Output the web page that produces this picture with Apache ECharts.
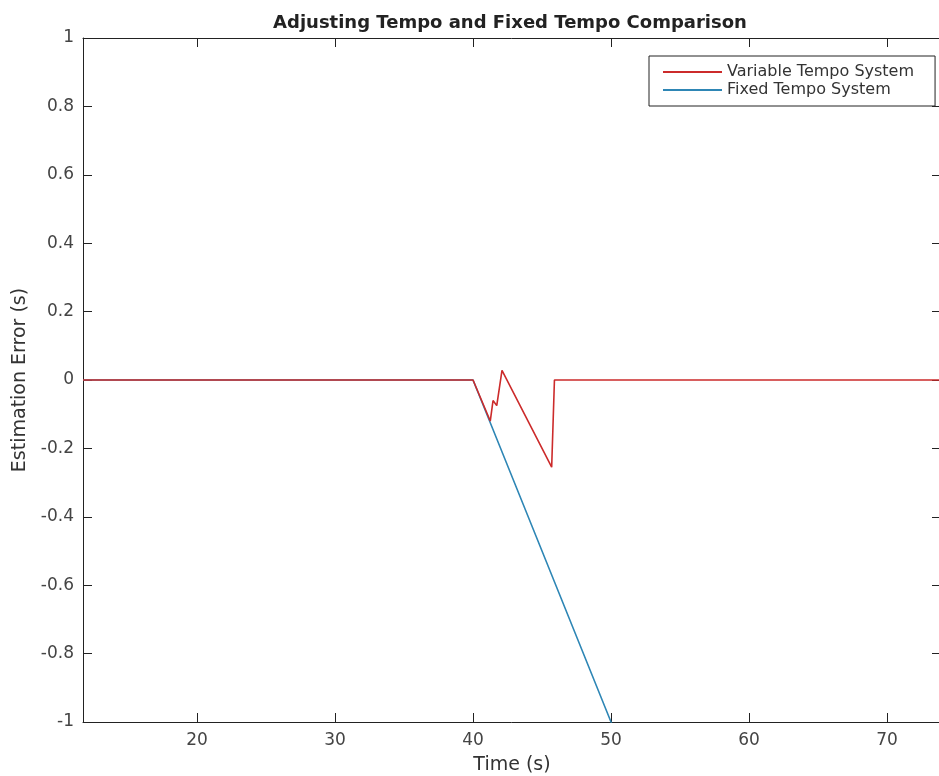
<!DOCTYPE html>
<html>
<head>
<meta charset="utf-8">
<title>Adjusting Tempo and Fixed Tempo Comparison</title>
<script src="https://cdn.jsdelivr.net/npm/echarts@6/dist/echarts.min.js"></script>
<style>
  html, body { margin: 0; padding: 0; background: #fff; }
  #chart { width: 939px; height: 776px; }
</style>
</head>
<body>
<div id="chart"></div>
<script>
// x range (axis is cropped on the right)
var xMin = 11.74;
var xMax = 73.91;

// Variable tempo system (red)
var varTime = [11.74, 40.0, 41.25, 41.45, 41.72, 42.1, 45.7, 45.9, 73.91];
var varErr = [0, 0, -0.12, -0.06, -0.075, 0.028, -0.255, 0, 0];

// Fixed tempo system (blue)
var fixTime = [11.74, 40.0, 50.0, 60.0];
var fixErr = [0, 0, -1.0, -2.0];

function pairs(xs, ys) {
  var out = [];
  for (var i = 0; i < xs.length; i++) out.push([xs[i], ys[i]]);
  return out;
}

var FONT = "DejaVu Sans";
var axisLineStyle = { color: "#222", width: 1 };

var chart = echarts.init(document.getElementById("chart"));
var option = {
  backgroundColor: "#fff",
  animation: false,
  title: {
    text: "Adjusting Tempo and Fixed Tempo Comparison",
    left: 505,
    top: 9,
    textAlign: "center",
    textStyle: { fontFamily: FONT, fontSize: 18, fontWeight: "bold", color: "#222" }
  },
  legend: {
    orient: "vertical",
    left: 649,
    top: 56,
    data: ["Variable Tempo System", "Fixed Tempo System"],
    icon: "rect",
    itemWidth: 59,
    itemHeight: 2,
    itemGap: 2,
    padding: [8, 21, 8, 14],
    borderColor: "#222",
    borderWidth: 1,
    backgroundColor: "#fff",
    textStyle: { fontFamily: FONT, fontSize: 16, color: "#333", lineHeight: 16 }
  },
  grid: { left: 83, top: 38, width: 858, height: 684, containLabel: false, outerBoundsMode: "none" },
  xAxis: [
    {
      type: "value",
      min: xMin,
      max: xMax,
      splitNumber: 6,
      name: "Time (s)",
      nameLocation: "middle",
      nameGap: 34,
      nameTextStyle: { fontFamily: FONT, fontSize: 19, color: "#333" },
      axisLine: { onZero: false, lineStyle: axisLineStyle },
      axisTick: { inside: true, length: 9, lineStyle: axisLineStyle },
      axisLabel: { fontFamily: FONT, fontSize: 17, color: "#444", margin: 10, showMinLabel: false, showMaxLabel: false },
      splitLine: { show: false }
    },
    {
      type: "value",
      position: "top",
      min: xMin,
      max: xMax,
      splitNumber: 6,
      axisLine: { onZero: false, lineStyle: axisLineStyle },
      axisTick: { inside: true, length: 9, lineStyle: axisLineStyle },
      axisLabel: { show: false },
      splitLine: { show: false }
    }
  ],
  yAxis: [
    {
      type: "value",
      min: -1,
      max: 1,
      interval: 0.2,
      name: "Estimation Error (s)",
      nameLocation: "middle",
      nameGap: 49,
      nameTextStyle: { fontFamily: FONT, fontSize: 19, color: "#333" },
      axisLine: { show: true, onZero: false, lineStyle: axisLineStyle },
      axisTick: { show: true, inside: true, length: 9, lineStyle: axisLineStyle },
      axisLabel: { fontFamily: FONT, fontSize: 17, color: "#444", margin: 9 },
      splitLine: { show: false }
    },
    {
      type: "value",
      position: "right",
      min: -1,
      max: 1,
      interval: 0.2,
      axisLine: { show: true, onZero: false, lineStyle: axisLineStyle },
      axisTick: { show: true, inside: true, length: 9, lineStyle: axisLineStyle },
      axisLabel: { show: false },
      splitLine: { show: false }
    }
  ],
  series: [
    {
      name: "Variable Tempo System",
      type: "line",
      data: pairs(varTime, varErr),
      showSymbol: false,
      color: "#cc2b2b",
      lineStyle: { width: 1.6, color: "#cc2b2b" },
      z: 4
    },
    {
      name: "Fixed Tempo System",
      type: "line",
      data: pairs(fixTime, fixErr),
      showSymbol: false,
      color: "#2e86b5",
      lineStyle: { width: 1.6, color: "#2e86b5" },
      z: 3
    }
  ]
};
chart.setOption(option);
</script>
</body>
</html>
